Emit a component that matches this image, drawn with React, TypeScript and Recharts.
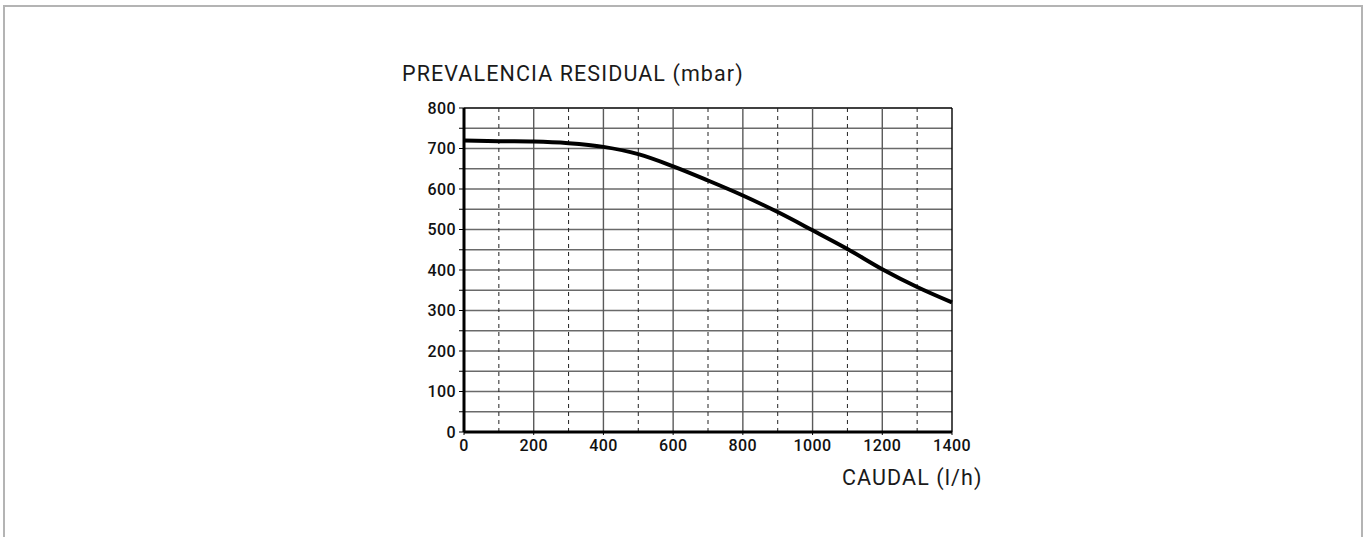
import { LineChart, Line, XAxis, YAxis, ReferenceLine } from 'recharts'

// caudal (l/h) and prevalencia residual (mbar)
const flow = [0, 100, 200, 300, 400, 500, 600, 700, 800, 900, 1000, 1100, 1200, 1300, 1400]
const pressure = [720, 718, 717, 713, 704, 686, 656, 621, 584, 543, 498, 452, 402, 358, 320]

const xTicks = [0, 200, 400, 600, 800, 1000, 1200, 1400]
const xDashed = [100, 300, 500, 700, 900, 1100, 1300]
const xSolid = [200, 400, 600, 800, 1000, 1200, 1400]
const yTicks = [0, 50, 100, 150, 200, 250, 300, 350, 400, 450, 500, 550, 600, 650, 700, 750, 800]

const data = flow.map((q, i) => ({ q, p: pressure[i] }))

const font = 'Roboto, "DejaVu Sans", sans-serif'

export default function App() {
  return (
    <div style={{ position: 'absolute', left: 0, top: 0, width: 1367, height: 537, overflow: 'hidden', background: '#fff' }}>
      <div style={{ position: 'absolute', left: 3, top: 5, width: 1356, height: 560, border: '2px solid #b4b4b4' }} />
      <LineChart
        width={1367}
        height={537}
        data={data}
        margin={{ top: 108, right: 415, left: 404, bottom: 75 }}
        style={{ position: 'absolute', left: 0, top: 0 }}
      >
        {yTicks.filter(v => v > 0).map(v => (
          <ReferenceLine key={'h' + v} y={v} stroke={v === 800 ? '#000' : '#6a6a6a'} strokeWidth={1.4} />
        ))}
        {xSolid.map(v => (
          <ReferenceLine key={'s' + v} x={v} stroke={v === 1400 ? '#000' : '#5a5a5a'} strokeWidth={1.4} />
        ))}
        {xDashed.map(v => (
          <ReferenceLine key={'d' + v} x={v} stroke="#222" strokeWidth={1} strokeDasharray="4 4" />
        ))}
        <XAxis
          dataKey="q"
          type="number"
          domain={[0, 1400]}
          ticks={xTicks}
          height={30}
          axisLine={{ stroke: '#000', strokeWidth: 3 }}
          tickLine={{ stroke: '#000' }}
          tickSize={3}
          tickMargin={5}
          tick={{ fontSize: 16, fontWeight: 500, fill: '#111', fontFamily: font, letterSpacing: 0.4 }}
        />
        <YAxis
          type="number"
          domain={[0, 800]}
          ticks={yTicks}
          width={60}
          interval={0}
          axisLine={{ stroke: '#000', strokeWidth: 3 }}
          tickLine={{ stroke: '#000' }}
          tickSize={5}
          tickMargin={3}
          tickFormatter={(v: number) => (v % 100 === 0 ? String(v) : '')}
          tick={{ fontSize: 16, fontWeight: 500, fill: '#111', fontFamily: font, letterSpacing: 0.4 }}
        />
        <Line
          type="monotone"
          dataKey="p"
          stroke="#000"
          strokeWidth={4}
          dot={false}
          isAnimationActive={false}
        />
      </LineChart>
      <svg width={1367} height={537} style={{ position: 'absolute', left: 0, top: 0, pointerEvents: 'none' }}>
        <text x={402} y={81} fontFamily={font} fontSize={21.5} fill="#1a1a1a" letterSpacing={1.1}>
          PREVALENCIA RESIDUAL (mbar)
        </text>
        <text x={842} y={485} fontFamily={font} fontSize={21.5} fill="#1a1a1a" letterSpacing={1.1}>
          CAUDAL (l/h)
        </text>
      </svg>
    </div>
  )
}
